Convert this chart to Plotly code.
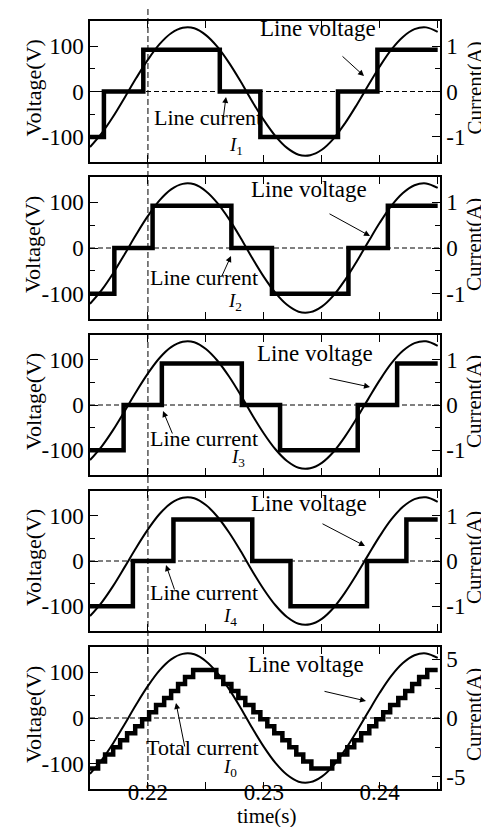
import plotly.graph_objects as go

# ---------------- data ----------------
t_volt = [0.215, 0.216, 0.217, 0.218, 0.219, 0.220, 0.221, 0.222, 0.223, 0.224,
          0.225, 0.226, 0.227, 0.228, 0.229, 0.230, 0.231, 0.232, 0.233, 0.234,
          0.235, 0.236, 0.237, 0.238, 0.239, 0.240, 0.241, 0.242, 0.243, 0.244, 0.245]
line_voltage = [-122, -92, -55, -13, 30, 70, 104, 128, 140, 139,
                124, 98, 63, 22, -22, -63, -98, -124, -139, -140,
                -128, -104, -70, -30, 13, 55, 92, 120, 137, 141, 131]

t_i1 = [0.215, 0.2162, 0.2196, 0.2262, 0.2297, 0.2364, 0.2398, 0.245]
t_i2 = [0.215, 0.2171, 0.2204, 0.2272, 0.2307, 0.2373, 0.2407, 0.245]
t_i3 = [0.215, 0.2179, 0.2212, 0.2281, 0.2314, 0.2381, 0.2415, 0.245]
t_i4 = [0.215, 0.2187, 0.2222, 0.2290, 0.2323, 0.2389, 0.2423, 0.245]
i_unit = [-1, 0, 0.92, 0, -1, 0, 0.92, 0.92]

t_i0 = [0.215,
        0.2157, 0.2163, 0.2170, 0.2176, 0.2182, 0.2189, 0.2195,
        0.2201, 0.2207, 0.2214, 0.2220, 0.2226, 0.2232, 0.2239,
        0.2259, 0.2265, 0.2272, 0.2278, 0.2284, 0.2291, 0.2297,
        0.2303, 0.2309, 0.2316, 0.2322, 0.2328, 0.2334, 0.2341,
        0.2359, 0.2365, 0.2372, 0.2378, 0.2384, 0.2391, 0.2397,
        0.2403, 0.2409, 0.2416, 0.2422, 0.2428, 0.2434, 0.2441,
        0.245]
i0_total = [-4.3,
            -3.7, -3.1, -2.5, -1.9, -1.3, -0.7, -0.1,
            0.5, 1.1, 1.7, 2.3, 2.9, 3.5, 4.1,
            3.5, 2.9, 2.3, 1.7, 1.1, 0.5, -0.1,
            -0.7, -1.3, -1.9, -2.5, -3.1, -3.7, -4.3,
            -3.7, -3.1, -2.5, -1.9, -1.3, -0.7, -0.1,
            0.5, 1.1, 1.7, 2.3, 2.9, 3.5, 4.1,
            4.1]

x_tickvals = [0.215, 0.22, 0.225, 0.23, 0.235, 0.24, 0.245]
x_ticktext = ["", "0.22", "", "0.23", "", "0.24", ""]
v_tickvals = [-100, 0, 100]
v_ticktext = ["-100", "0", "100"]
i_tickvals_unit = [-1, 0, 1]
i_ticktext_unit = ["-1", "0", "1"]
i_tickvals_total = [-5, 0, 5]
i_ticktext_total = ["-5", "0", "5"]
current_labels = ["Line current", "Line current", "Line current", "Line current", "Total current"]
current_symbols = ["1", "2", "3", "4", "0"]

# ---------------- layout geometry (pixels) ----------------
W, H = 489, 827
L, R, T, B = 82, 432, 13, 781
panel_px = [(13, 154), (169, 311), (327, 467), (483, 623), (639, 781)]
DY = -7  # text baseline correction


def px2x(px):
    return (px - L) / (R - L)


def py2y(py):
    return (B - py) / (B - T)


FONT = "Liberation Serif"
TICK = 23
fig = go.Figure()

currents_t = [t_i1, t_i2, t_i3, t_i4, t_i0]
currents_v = [i_unit, i_unit, i_unit, i_unit, i0_total]

layout = dict(
    width=W, height=H,
    margin=dict(l=L, r=W - R, t=T, b=H - B),
    paper_bgcolor="white", plot_bgcolor="white",
    showlegend=False,
    font=dict(family=FONT, size=22, color="black"),
)

annotations = []
shapes = []

for k in range(5):
    n = k + 1
    xa = "x" if n == 1 else f"x{n}"
    ya_l = "y" if n == 1 else f"y{2 * n - 1}"
    ya_r = f"y{2 * n}"
    top, bot = panel_px[k]
    dom = [py2y(bot), py2y(top)]

    fig.add_trace(go.Scatter(x=t_volt, y=line_voltage, mode="lines",
                             line=dict(color="black", width=2, shape="spline", smoothing=1.0),
                             xaxis=xa, yaxis=ya_l, hoverinfo="skip"))
    fig.add_trace(go.Scatter(x=currents_t[k], y=currents_v[k], mode="lines",
                             line=dict(color="black", width=4.5, shape="hv"),
                             xaxis=xa, yaxis=ya_r, hoverinfo="skip"))

    last = (n == 5)
    layout["xaxis" if n == 1 else f"xaxis{n}"] = dict(
        domain=[0, 1], anchor=ya_l, range=[0.215, 0.2452],
        showline=True, linecolor="black", linewidth=1.5, mirror="ticks",
        ticks="inside", ticklen=7, tickwidth=1.2, tickcolor="black",
        tickmode="array", tickvals=x_tickvals,
        ticktext=x_ticktext if last else [""] * len(x_tickvals),
        showticklabels=last, showgrid=False, zeroline=False,
        ticklabelstandoff=-18,
        tickfont=dict(size=TICK, family=FONT),
    )
    layout["yaxis" if n == 1 else f"yaxis{2 * n - 1}"] = dict(
        domain=dom, anchor=xa, range=[-155, 155],
        showline=True, linecolor="black", linewidth=1.5, mirror=True,
        ticks="inside", ticklen=8, tickwidth=1.2, tickcolor="black",
        tickmode="array", tickvals=v_tickvals, ticktext=v_ticktext,
        minor=dict(tickvals=[-50, 50], ticks="inside", ticklen=5, tickcolor="black", tickwidth=1.2),
        showgrid=False, zeroline=False,
        tickfont=dict(size=TICK, family=FONT),
    )
    if last:
        rr, tv, tt, mv = [-6.05, 6.05], i_tickvals_total, i_ticktext_total, [-2.5, 2.5]
    else:
        rr, tv, tt, mv = [-1.55, 1.55], i_tickvals_unit, i_ticktext_unit, [-0.5, 0.5]
    layout[f"yaxis{2 * n}"] = dict(
        domain=dom, anchor=xa, overlaying=ya_l, side="right", range=rr,
        showline=True, linecolor="black", linewidth=1.5,
        ticks="inside", ticklen=8, tickwidth=1.2, tickcolor="black",
        tickmode="array", tickvals=tv, ticktext=tt,
        minor=dict(tickvals=mv, ticks="inside", ticklen=5, tickcolor="black", tickwidth=1.2),
        showgrid=False, zeroline=False,
        tickfont=dict(size=TICK, family=FONT),
    )

    # zero dashed line
    shapes.append(dict(type="line", xref=xa, yref=ya_l, x0=0.215, x1=0.2452, y0=0, y1=0,
                       line=dict(color="black", width=1, dash="5px,3px"), layer="below"))

    # axis titles
    cy = py2y((top + bot) / 2 - 3)
    annotations.append(dict(text="Voltage(V)", xref="paper", yref="paper",
                            x=px2x(25), y=cy, textangle=-90, showarrow=False,
                            font=dict(size=22, family=FONT), xanchor="center", yanchor="middle"))
    annotations.append(dict(text="Current(A)", xref="paper", yref="paper",
                            x=px2x(466), y=cy, textangle=-90, showarrow=False,
                            font=dict(size=21, family=FONT), xanchor="center", yanchor="middle"))

# annotation text / arrows per panel (pixel positions)
lv_text = [(310, 28), (301, 188), (307, 352), (301, 502), (298, 663)]
lv_arrow = [((333, 47), (356, 68)), ((320, 205), (362, 228)), ((320, 370), (362, 379)),
            ((313, 515), (357, 538)), ((315, 683), (358, 693))]
lc_text = [(200, 116), (196, 276), (196, 438), (196, 591), (194, 746)]
lc_sym = [(228, 145), (227, 301), (230, 457), (222, 616), (222, 767)]
lc_arrow = [((215, 112), (218, 89)), ((213, 270), (223, 248)), ((165, 427), (155, 403)),
            ((167, 583), (158, 557)), ((177, 740), (168, 695))]

for k in range(5):
    annotations.append(dict(text="Line voltage", xref="paper", yref="paper",
                            x=px2x(lv_text[k][0]), y=py2y(lv_text[k][1] + DY), showarrow=False,
                            font=dict(size=23, family=FONT), xanchor="center", yanchor="middle"))
    (tx, ty), (hx, hy) = lv_arrow[k]
    annotations.append(dict(text="", xref="paper", yref="paper", x=px2x(hx), y=py2y(hy),
                            ax=tx - hx, ay=ty - hy, showarrow=True, arrowhead=2, arrowsize=1.2,
                            arrowwidth=1, arrowcolor="black", standoff=0))
    annotations.append(dict(text=current_labels[k], xref="paper", yref="paper",
                            x=px2x(lc_text[k][0]), y=py2y(lc_text[k][1] + DY), showarrow=False,
                            font=dict(size=22, family=FONT), xanchor="center", yanchor="middle"))
    annotations.append(dict(text="<i>I</i><sub>" + current_symbols[k] + "</sub>", xref="paper", yref="paper",
                            x=px2x(lc_sym[k][0]), y=py2y(lc_sym[k][1] + DY), showarrow=False,
                            font=dict(size=19, family=FONT), xanchor="center", yanchor="middle"))
    (tx, ty), (hx, hy) = lc_arrow[k]
    annotations.append(dict(text="", xref="paper", yref="paper", x=px2x(hx), y=py2y(hy),
                            ax=tx - hx, ay=ty - hy, showarrow=True, arrowhead=2, arrowsize=1.2,
                            arrowwidth=1, arrowcolor="black", standoff=0))

annotations.append(dict(text="time(s)", xref="paper", yref="paper", x=px2x(258), y=py2y(815 + DY),
                        showarrow=False, font=dict(size=21, family=FONT),
                        xanchor="center", yanchor="middle"))

# vertical dashed marker at t = 0.22 spanning all panels
shapes.append(dict(type="line", xref="x5", yref="paper", x0=0.22, x1=0.22, y0=0, y1=py2y(0),
                   line=dict(color="black", width=1, dash="6px,3px"), layer="above"))

layout["annotations"] = annotations
layout["shapes"] = shapes
fig.update_layout(**layout)

fig.write_html("out.html")
